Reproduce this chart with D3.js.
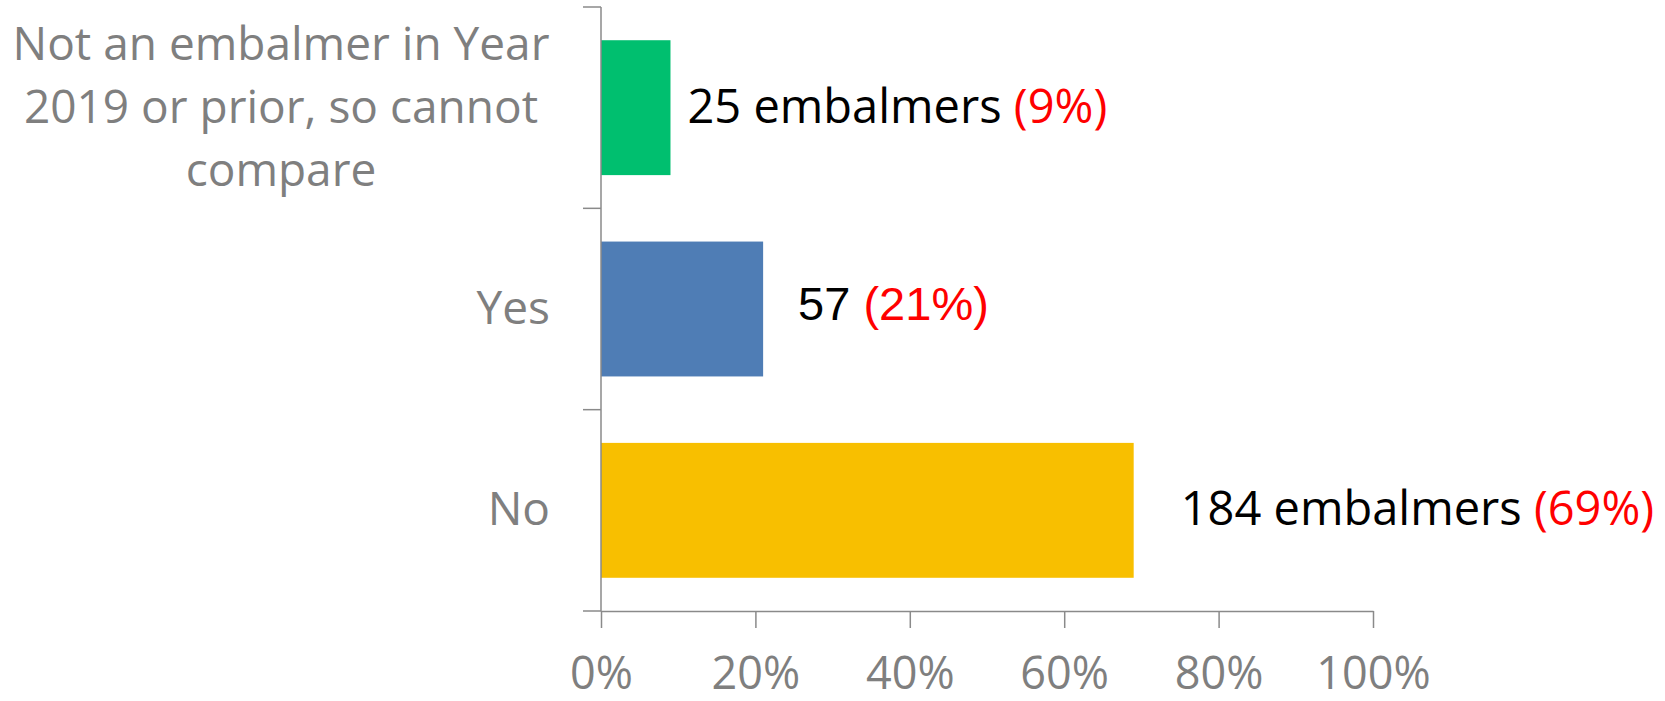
<!DOCTYPE html>
<html>
<head>
<meta charset="utf-8">
<script src="https://cdn.jsdelivr.net/npm/d3@7"></script>
<style>
  body { margin: 0; background: #fff; }
  svg { display: block; }
</style>
</head>
<body>
<svg id="main-svg" width="1665" height="701"></svg>
<script>
// chart values
const categories = ["Not an embalmer in Year 2019 or prior, so cannot compare", "Yes", "No"];
const categoryLines = [["Not an embalmer in Year", "2019 or prior, so cannot", "compare"], ["Yes"], ["No"]];
const shares = [0.09, 0.21, 0.69];
const counts = [25, 57, 184];
const countText = ["25 embalmers", "57", "184 embalmers"];
const xTicks = [0, 0.2, 0.4, 0.6, 0.8, 1];

// layout
const barColors = ["#00BF6F", "#4F7DB5", "#F8BF00"];
const labelGap = [17, 35, 47];
const GRAY = "#7f7f7f";
const AXIS = "#8a8a8a";
const CAL = "'Open Sans', Carlito, Calibri, sans-serif";
const ARIAL = "'Liberation Sans', Arial, sans-serif";

const svg = d3.select("#main-svg");

const x = d3.scaleLinear().domain([0, 1]).range([601, 1373]);
const y = d3.scaleBand().domain(categories).range([7, 611])
  .paddingInner(0.33).paddingOuter(0.165);

// bars
svg.append("g").selectAll("rect")
  .data(categories)
  .join("rect")
    .attr("x", x(0))
    .attr("y", d => y(d))
    .attr("width", (d, i) => x(shares[i]) - x(0))
    .attr("height", y.bandwidth())
    .attr("fill", (d, i) => barColors[i]);

// y axis line + ticks at band boundaries
const yAxis = svg.append("g").attr("stroke", AXIS).attr("stroke-width", 1.5);
yAxis.append("line")
  .attr("x1", x(0)).attr("x2", x(0))
  .attr("y1", y.range()[0]).attr("y2", y.range()[1]);
d3.range(categories.length + 1).forEach(i => {
  const yy = y.range()[0] + i * y.step();
  yAxis.append("line")
    .attr("x1", x(0) - 18).attr("x2", x(0))
    .attr("y1", yy).attr("y2", yy);
});

// x axis
const xAxis = svg.append("g")
  .attr("transform", `translate(0,${y.range()[1]})`)
  .call(d3.axisBottom(x).tickValues(xTicks).tickFormat(d3.format(".0%"))
    .tickSize(17).tickSizeOuter(0));
xAxis.select(".domain").attr("stroke", AXIS).attr("stroke-width", 1.5);
xAxis.selectAll(".tick line").attr("stroke", AXIS).attr("stroke-width", 1.5);
xAxis.selectAll(".tick text")
  .attr("y", 78).attr("dy", null)
  .attr("fill", GRAY)
  .style("font-family", CAL)
  .style("font-size", "45px");

// category labels
categories.forEach((c, i) => {
  const lines = categoryLines[i];
  const cy = y(c) + y.bandwidth() / 2;
  const t = svg.append("text")
    .attr("fill", GRAY)
    .style("font-family", CAL)
    .style("font-size", "46px");
  if (lines.length > 1) {
    t.attr("text-anchor", "middle");
    lines.forEach((ln, k) => {
      t.append("tspan")
        .attr("x", 281)
        .attr("y", cy + 15 + (k - 1) * 63)
        .text(ln);
    });
  } else {
    t.attr("text-anchor", "end")
      .attr("x", 550)
      .attr("y", cy + 15)
      .text(lines[0]);
  }
});

// value labels
categories.forEach((c, i) => {
  const arial = i === 1;
  const t = svg.append("text")
    .attr("x", x(shares[i]) + labelGap[i])
    .attr("y", y(c) + y.bandwidth() / 2 + (arial ? 11 : 15))
    .style("font-family", arial ? ARIAL : CAL)
    .style("font-size", "47px");
  t.append("tspan").attr("fill", "#000").text(countText[i] + " ");
  t.append("tspan").attr("fill", "#ff0000").text("(" + d3.format(".0%")(shares[i]) + ")");
});
</script>
</body>
</html>
